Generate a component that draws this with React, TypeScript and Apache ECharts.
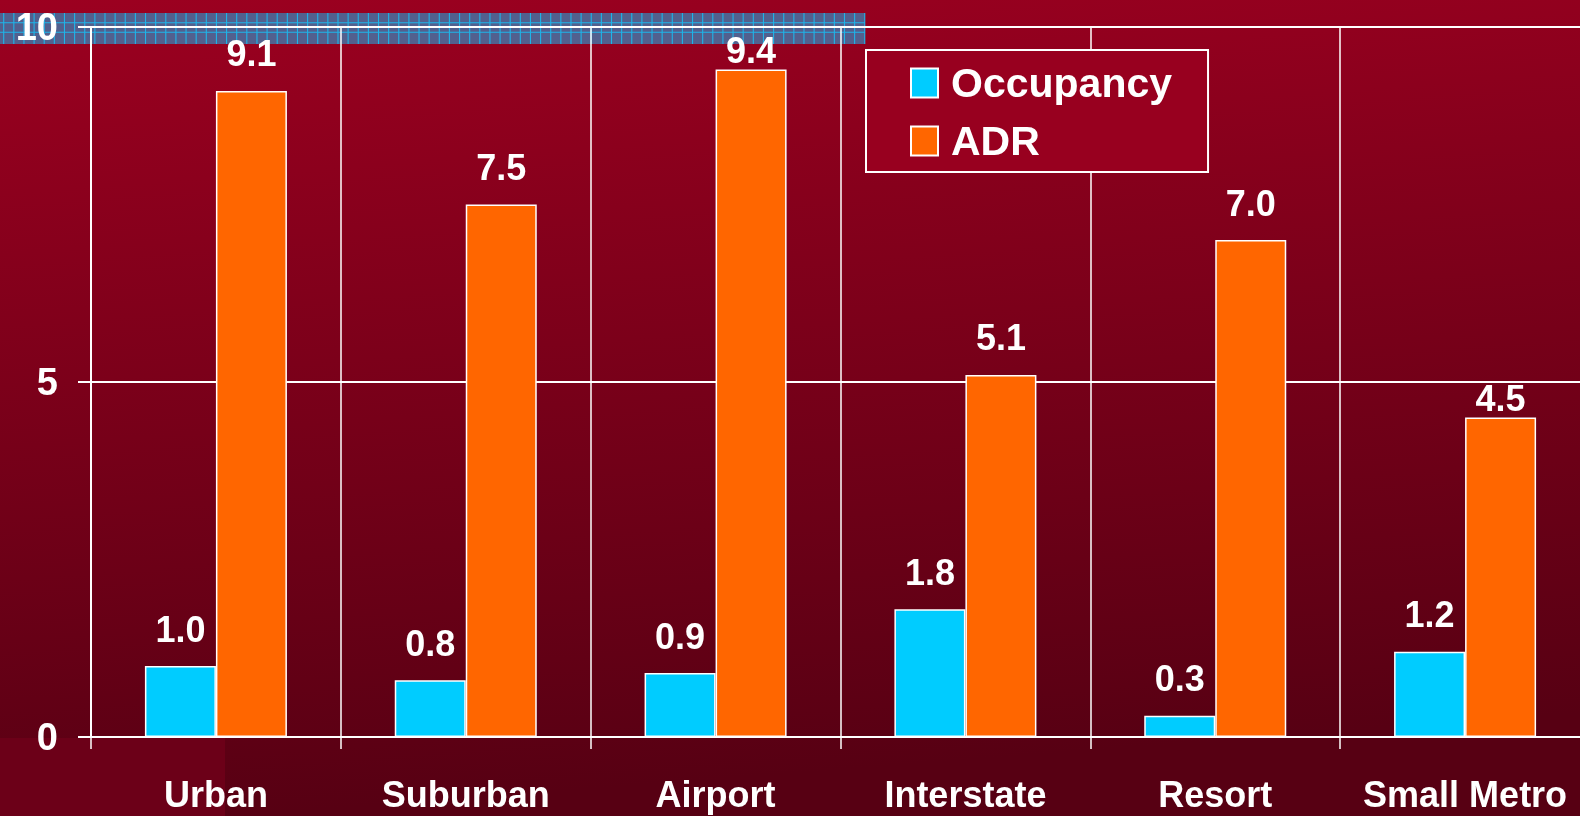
import React, { useEffect, useRef } from "react";
import * as echarts from "echarts";

const categories = ["Urban", "Suburban", "Airport", "Interstate", "Resort", "Small Metro"];
const occupancy = [1.0, 0.8, 0.9, 1.8, 0.3, 1.2];
const adr = [9.1, 7.5, 9.4, 5.1, 7.0, 4.5];
const yTicks = { min: 0, max: 10, interval: 5 };
const seriesNames = ["Occupancy", "ADR"];

// labels that sit tight on their bar in the reference
const tightAdrLabels = new Set(["Airport", "Small Metro"]);

const FONT = "'Liberation Sans', Arial, sans-serif";
const CHART_W = 1590;
const CHART_H = 816;

export default function App() {
  const ref = useRef<HTMLDivElement>(null);

  useEffect(() => {
    if (!ref.current) return;
    const chart = echarts.init(ref.current, undefined, { renderer: "svg" });

    const bandLines: any[] = [];
    for (let x = 3.7; x < 865; x += 10.13) {
      bandLines.push({
        type: "line",
        z: -50,
        silent: true,
        shape: { x1: x, y1: 13, x2: x, y2: 44 },
        style: { stroke: "#1fb4e8", lineWidth: 1.1 },
      });
    }
    [22.7, 32.3].forEach((y) =>
      bandLines.push({
        type: "line",
        z: -50,
        silent: true,
        shape: { x1: 0, y1: y, x2: 865, y2: y },
        style: { stroke: "#1fb4e8", lineWidth: 1.1 },
      })
    );

    const labelBase = {
      show: true,
      position: "top" as const,
      distance: 19,
      color: "#ffffff",
      fontFamily: FONT,
      fontWeight: "bold" as const,
      fontSize: 36,
      formatter: (p: any) => Number(p.value).toFixed(1),
    };

    const option: any = {
      animation: false,
      textStyle: { fontFamily: FONT },
      graphic: [
        {
          type: "rect",
          z: -100,
          silent: true,
          shape: { x: 0, y: 0, width: CHART_W, height: CHART_H },
          style: {
            fill: new echarts.graphic.LinearGradient(0, 0, 0.15, 1, [
              { offset: 0, color: "#9c0020" },
              { offset: 1, color: "#570013" },
            ]),
          },
        },
        {
          type: "rect",
          z: -90,
          silent: true,
          shape: { x: 0, y: 738, width: 225, height: 78 },
          style: { fill: "#6c0018" },
        },
        {
          type: "rect",
          z: -60,
          silent: true,
          shape: { x: 0, y: 13, width: 865, height: 31 },
          style: { fill: "#52608e" },
        },
        ...bandLines,
      ],
      legend: {
        orient: "vertical",
        left: 866,
        top: 50,
        padding: [11, 36, 9, 44],
        itemGap: 14,
        itemWidth: 27,
        itemHeight: 29,
        backgroundColor: "#98001f",
        borderColor: "#ffffff",
        borderWidth: 2,
        icon: "rect",
        textStyle: {
          color: "#ffffff",
          fontFamily: FONT,
          fontWeight: "bold",
          fontSize: 41,
          lineHeight: 44,
          padding: [0, 0, 0, 8],
        },
        data: seriesNames,
      },
      grid: { left: 91, top: 27, bottom: 79, right: 0, containLabel: false },
      xAxis: {
        type: "category",
        data: categories,
        axisLine: { show: true, lineStyle: { color: "#ffffff", width: 2 } },
        axisTick: { show: true, length: 12, lineStyle: { color: "#ffffff", width: 1.5 } },
        splitLine: { show: true, lineStyle: { color: "#ffffff", width: 1.5 } },
        axisLabel: {
          color: "#ffffff",
          fontFamily: FONT,
          fontWeight: "bold",
          fontSize: 36,
          margin: 39,
          interval: 0,
        },
      },
      yAxis: {
        type: "value",
        min: yTicks.min,
        max: yTicks.max,
        interval: yTicks.interval,
        axisLine: { show: true, lineStyle: { color: "#ffffff", width: 2 } },
        axisTick: { show: true, length: 13, lineStyle: { color: "#ffffff", width: 2 } },
        splitLine: { show: true, lineStyle: { color: "#ffffff", width: 2 } },
        axisLabel: {
          color: "#ffffff",
          fontFamily: FONT,
          fontWeight: "bold",
          fontSize: 38,
          margin: 33,
        },
      },
      series: [
        {
          name: seriesNames[0],
          type: "bar",
          barWidth: 71,
          barGap: "0%",
          data: occupancy,
          itemStyle: { color: "#00ccff", borderColor: "#ffffff", borderWidth: 1.5 },
          label: labelBase,
        },
        {
          name: seriesNames[1],
          type: "bar",
          barWidth: 71,
          barGap: "0%",
          data: adr.map((v, i) =>
            tightAdrLabels.has(categories[i])
              ? { value: v, label: { offset: [0, 18] } }
              : v
          ),
          itemStyle: { color: "#ff6600", borderColor: "#ffffff", borderWidth: 1.5 },
          label: labelBase,
        },
      ],
    };

    chart.setOption(option);
    return () => chart.dispose();
  }, []);

  return (
    <div
      ref={ref}
      style={{ position: "fixed", left: 0, top: 0, width: CHART_W, height: CHART_H }}
    />
  );
}
